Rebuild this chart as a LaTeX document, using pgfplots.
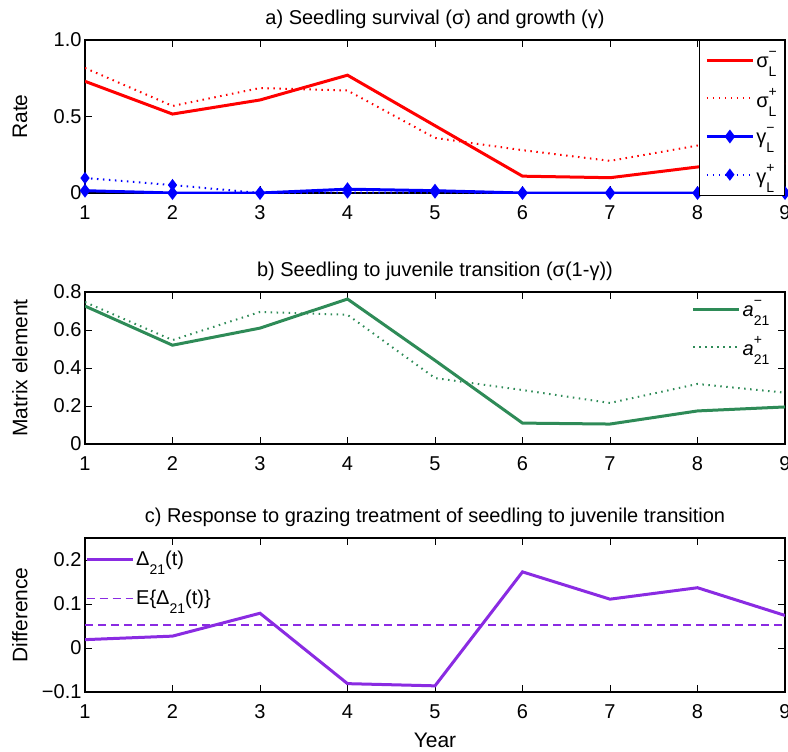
\documentclass[border=0pt]{standalone}
\usepackage{fontspec}
\setmainfont{Liberation Sans}
\usepackage{pgfplots}
\pgfplotsset{compat=1.18}

\definecolor{mred}{RGB}{255,0,0}
\definecolor{mblue}{RGB}{0,0,255}
\definecolor{mgreen}{RGB}{46,139,87}
\definecolor{mpurple}{RGB}{138,43,226}

% symbol with stacked super- and subscript
\newcommand\supsub[3]{#1\rlap{\raisebox{0.55em}{\fontsize{14bp}{14bp}\selectfont #2}}\raisebox{-0.45em}{\fontsize{14bp}{14bp}\selectfont #3}}
\newcommand\sub[2]{#1\raisebox{-0.45em}{\fontsize{14bp}{14bp}\selectfont #2}}

\pgfplotsset{
  mstyle/.style={
    scale only axis, width=700bp,
    xmin=1, xmax=9,
    xtick={1,2,3,4,5,6,7,8,9},
    xticklabels={1,2,3,4,5,6,7,8,9},
    tick align=inside,
    major tick length=7bp,
    axis line style={line width=1.2bp},
    every tick/.style={black, line width=0.9bp},
    tick label style={font=\fontsize{20bp}{22bp}\selectfont},
    xticklabel style={yshift=-9bp},
    label style={font=\fontsize{21bp}{23bp}\selectfont},
    ylabel style={at={(axis description cs:-0.093,0.5)}, anchor=center},
    title style={font=\fontsize{20bp}{22bp}\selectfont, at={(axis description cs:0.5,1)}, anchor=center, yshift=15bp},
    legend cell align=left,
    legend image code/.code={\draw[mark repeat=2,mark phase=2,##1] plot coordinates {(0bp,0bp) (23bp,0bp) (46bp,0bp)};},
    legend style={font=\fontsize{20bp}{22bp}\selectfont},
  },
  dotl/.style={line width=2bp, dash pattern=on 1.5bp off 4.5bp},
}

\begin{document}
\begin{tikzpicture}
\path[use as bounding box] (0,0) rectangle (788bp,-752bp);

% a) survival and growth
\begin{axis}[mstyle, at={(85bp,-40bp)}, anchor=north west, height=153bp,
  ymin=0, ymax=1, ytick={0,0.5,1}, yticklabels={0,0.5,1.0},
  ylabel={Rate},
  title={a) Seedling survival (σ) and growth (γ)},
  legend style={at={(1,1)}, anchor=north east, draw=black, line width=1bp,
    row sep=15bp, inner xsep=6bp, inner ysep=9bp}]
\addplot[mred, line width=3bp] coordinates {(1,0.73) (2,0.516) (3,0.608) (4,0.77) (5,0.44) (6,0.11) (7,0.10) (8,0.17) (9,0.195)};
\addplot[mred, dotl] coordinates {(1,0.817) (2,0.569) (3,0.686) (4,0.67) (5,0.36) (6,0.28) (7,0.21) (8,0.31) (9,0.27)};
\addplot[mblue, line width=3bp, mark=diamond*, mark size=4.5bp, mark options={solid}] coordinates {(1,0.015) (2,0) (3,0) (4,0.025) (5,0.015) (6,0) (7,0) (8,0) (9,0)};
\addplot[mblue, dotl, mark=diamond*, mark size=4.5bp, mark options={solid}] coordinates {(1,0.098) (2,0.052) (3,0) (4,0.003) (5,0.003) (6,0) (7,0) (8,0) (9,0)};
\legend{\supsub{σ}{−}{L}, \supsub{σ}{+}{L}, \supsub{γ}{−}{L}, \supsub{γ}{+}{L}}
\end{axis}

% b) seedling to juvenile
\begin{axis}[mstyle, at={(85bp,-292bp)}, anchor=north west, height=152bp,
  ymin=0, ymax=0.8, ytick={0,0.2,0.4,0.6,0.8}, yticklabels={0,0.2,0.4,0.6,0.8},
  ylabel={Matrix element},
  title={b) Seedling to juvenile transition (σ(1-γ))},
  legend style={at={(0.985,0.97)}, anchor=north east, draw=none, fill=none,
    row sep=14bp}]
\addplot[mgreen, line width=3bp] coordinates {(1,0.726) (2,0.52) (3,0.61) (4,0.763) (5,0.44) (6,0.11) (7,0.105) (8,0.174) (9,0.195)};
\addplot[mgreen, dotl] coordinates {(1,0.747) (2,0.547) (3,0.695) (4,0.68) (5,0.347) (6,0.284) (7,0.216) (8,0.316) (9,0.27)};
\legend{\supsub{\textit{a}}{−}{21}, \supsub{\textit{a}}{+}{21}}
\end{axis}

% c) difference
\begin{axis}[mstyle, at={(85bp,-538bp)}, anchor=north west, height=154bp,
  ymin=-0.1, ymax=0.25, ytick={-0.1,0,0.1,0.2}, yticklabels={−0.1,0,0.1,0.2},
  ylabel={Difference}, xlabel={Year},
  xlabel style={at={(axis description cs:0.5,0)}, anchor=center, yshift=-48bp},
  title={c) Response to grazing treatment of seedling to juvenile transition},
  legend style={at={(0,0.94)}, anchor=north west, draw=none, fill=none,
    row sep=19bp, inner xsep=0bp}]
\addplot[mpurple, line width=3bp] coordinates {(1,0.019) (2,0.027) (3,0.079) (4,-0.081) (5,-0.086) (6,0.173) (7,0.111) (8,0.137) (9,0.074)};
\addplot[mpurple, line width=1.5bp, dash pattern=on 8bp off 5bp] coordinates {(1,0.052) (9,0.052)};
\legend{\sub{Δ}{21}(t), E\{\sub{Δ}{21}(t)\}}
\end{axis}
\end{tikzpicture}
\end{document}
